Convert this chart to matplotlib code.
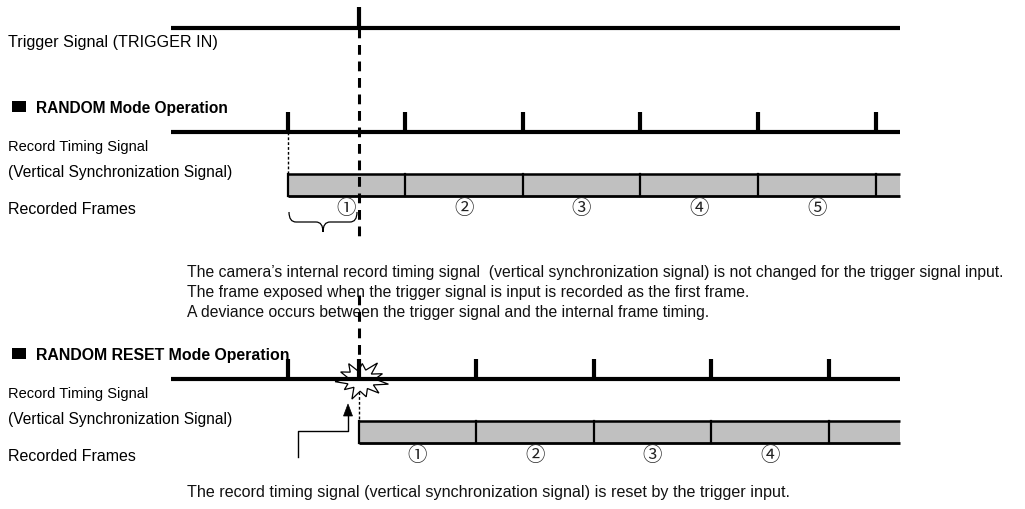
import numpy as np
import matplotlib
matplotlib.use('Agg')
import matplotlib.pyplot as plt
from matplotlib.patches import Rectangle, Polygon, PathPatch
from matplotlib.path import Path

# timing data (pixel positions)
trigger_x = 359
line_start, line_end = 171, 900
random_ticks = [288, 405, 523, 640, 758, 876]
reset_ticks = [288, 359, 476, 594, 711, 829]
random_labels = ['①', '②', '③', '④', '⑤']
reset_labels = ['①', '②', '③', '④']

trigger_y = 29
random_y = 133
reset_y = 380

note_random = ["The camera\u2019s internal record timing signal  (vertical synchronization signal) is not changed for the trigger signal input.",
               "The frame exposed when the trigger signal is input is recorded as the first frame.",
               "A deviance occurs between the trigger signal and the internal frame timing."]
note_reset = "The record timing signal (vertical synchronization signal) is reset by the trigger input."

FONT = ['Liberation Sans', 'DejaVu Sans']
CIRC = ['Noto Sans CJK JP', 'DejaVu Sans']

fig = plt.figure(figsize=(10.25, 5.1), dpi=100)
ax = fig.add_axes([0, 0, 1, 1])
ax.set_xlim(0, 1025)
ax.set_ylim(510, 0)
ax.axis('off')

LW = 3.0


def signal(y, ticks, frame_start, labels):
    # signal line with ticks
    ax.plot([line_start, line_end], [y, y], color='k', lw=LW, solid_capstyle='butt', zorder=3)
    for t in ticks:
        ax.plot([t, t], [y - 20, y], color='k', lw=LW, solid_capstyle='butt', zorder=3)
    # recorded frames
    top, bot = y + 42, y + 64
    edges = [frame_start] + [t for t in ticks if t > frame_start] + [line_end]
    for i in range(len(edges) - 1):
        ax.add_patch(Rectangle((edges[i], top), edges[i + 1] - edges[i], bot - top,
                               facecolor='#c0c0c0', edgecolor='none', zorder=1))
        if 0 < i:
            ax.plot([edges[i], edges[i]], [top, bot], color='k', lw=1.6, zorder=2)
        if i < len(labels):
            ax.text((edges[i] + edges[i + 1]) / 2, bot + 12, labels[i], family=CIRC,
                    fontsize=14, ha='center', va='center', color='#222222')
    ax.plot([frame_start, line_end], [top, top], color='k', lw=1.8, solid_capstyle='butt', zorder=2)
    ax.plot([frame_start, line_end], [bot, bot], color='k', lw=2.0, solid_capstyle='butt', zorder=2)
    ax.plot([frame_start, frame_start], [top, bot], color='k', lw=1.6, zorder=2)
    # labels on the left
    ax.text(8, y + 18, 'Record Timing Signal', family=FONT, fontsize=10.5, va='baseline')
    ax.text(8, y + 44, '(Vertical Synchronization Signal)', family=FONT, fontsize=11.2, va='baseline')
    ax.text(8, y + 81, 'Recorded Frames', family=FONT, fontsize=11.5, va='baseline')
    return top


# trigger signal
ax.plot([line_start, line_end], [trigger_y, trigger_y], color='k', lw=LW, solid_capstyle='butt', zorder=3)
ax.plot([trigger_x, trigger_x], [8, trigger_y], color='k', lw=LW, solid_capstyle='butt', zorder=3)
ax.text(8, 47, 'Trigger Signal (TRIGGER IN)', family=FONT, fontsize=11.6, va='baseline')

# RANDOM mode
ax.add_patch(Rectangle((12, 102), 14, 11, facecolor='k', edgecolor='none'))
ax.text(36, 113, 'RANDOM Mode Operation', family=FONT, fontsize=11.2, weight='bold', va='baseline')
top1 = signal(random_y, random_ticks, random_ticks[0], random_labels)
ax.plot([random_ticks[0], random_ticks[0]], [random_y, top1], color='k', lw=1.0,
        ls=(0, (2, 1.5)), zorder=2)

# brace under first frame
bx0, bx1, by = 289, 357, 213
bm = 323
verts = [(bx0, by), (bx0, by + 10), (bx0 + 7, by + 10),
         (bm - 7, by + 10),
         (bm, by + 10), (bm, by + 20),
         (bm, by + 10), (bm + 7, by + 10),
         (bx1 - 7, by + 10),
         (bx1, by + 10), (bx1, by)]
codes = [Path.MOVETO, Path.CURVE3, Path.CURVE3,
         Path.LINETO,
         Path.CURVE3, Path.CURVE3,
         Path.CURVE3, Path.CURVE3,
         Path.LINETO,
         Path.CURVE3, Path.CURVE3]
ax.add_patch(PathPatch(Path(verts, codes), facecolor='none', edgecolor='k', lw=0.9))

# explanation text
for i, line in enumerate(note_random):
    ax.text(187, 277 + 20 * i, line, family=FONT, fontsize=11.35, va='baseline', color='#111111')

# trigger dashed line (hidden behind first two text lines)
ax.plot([trigger_x, trigger_x], [trigger_y, 238], color='k', lw=2.2, ls=(0, (3.2, 2.2)), zorder=4)
ax.plot([trigger_x, trigger_x], [296, reset_y - 22], color='k', lw=2.2, ls=(0, (3.2, 2.2)), zorder=4)

# RANDOM RESET mode
ax.add_patch(Rectangle((12, 349), 14, 11, facecolor='k', edgecolor='none'))
ax.text(36, 360, 'RANDOM RESET Mode Operation', family=FONT, fontsize=11.4, weight='bold', va='baseline')

# burst shape at the reset point
n = 11
radii = [28, 14, 25, 13, 23, 15, 27, 12, 21, 14, 26, 13, 23, 15, 25, 12, 22, 14, 28, 13, 23, 14]
ang = np.linspace(0, 2 * np.pi, 2 * n, endpoint=False) + 0.2
star = np.column_stack([361 + np.array(radii) * np.cos(ang),
                        381 + 0.75 * np.array(radii) * np.sin(ang)])
ax.add_patch(Polygon(star, closed=True, facecolor='white', edgecolor='k', lw=0.9, zorder=2.5))

top2 = signal(reset_y, reset_ticks, trigger_x, reset_labels)
ax.plot([trigger_x, trigger_x], [reset_y + 3, top2], color='k', lw=1.0, ls=(0, (2, 1.5)), zorder=2)

# arrow
ax.plot([298, 298, 348, 348], [458, 432, 432, 416], color='k', lw=1.0)
ax.add_patch(Polygon([(343.5, 417), (352.5, 417), (348, 405)], closed=True, facecolor='k', edgecolor='k', lw=0.5))

ax.text(187, 497, note_reset, family=FONT, fontsize=11.6, va='baseline', color='#111111')

fig.savefig('out.png', dpi=100)
